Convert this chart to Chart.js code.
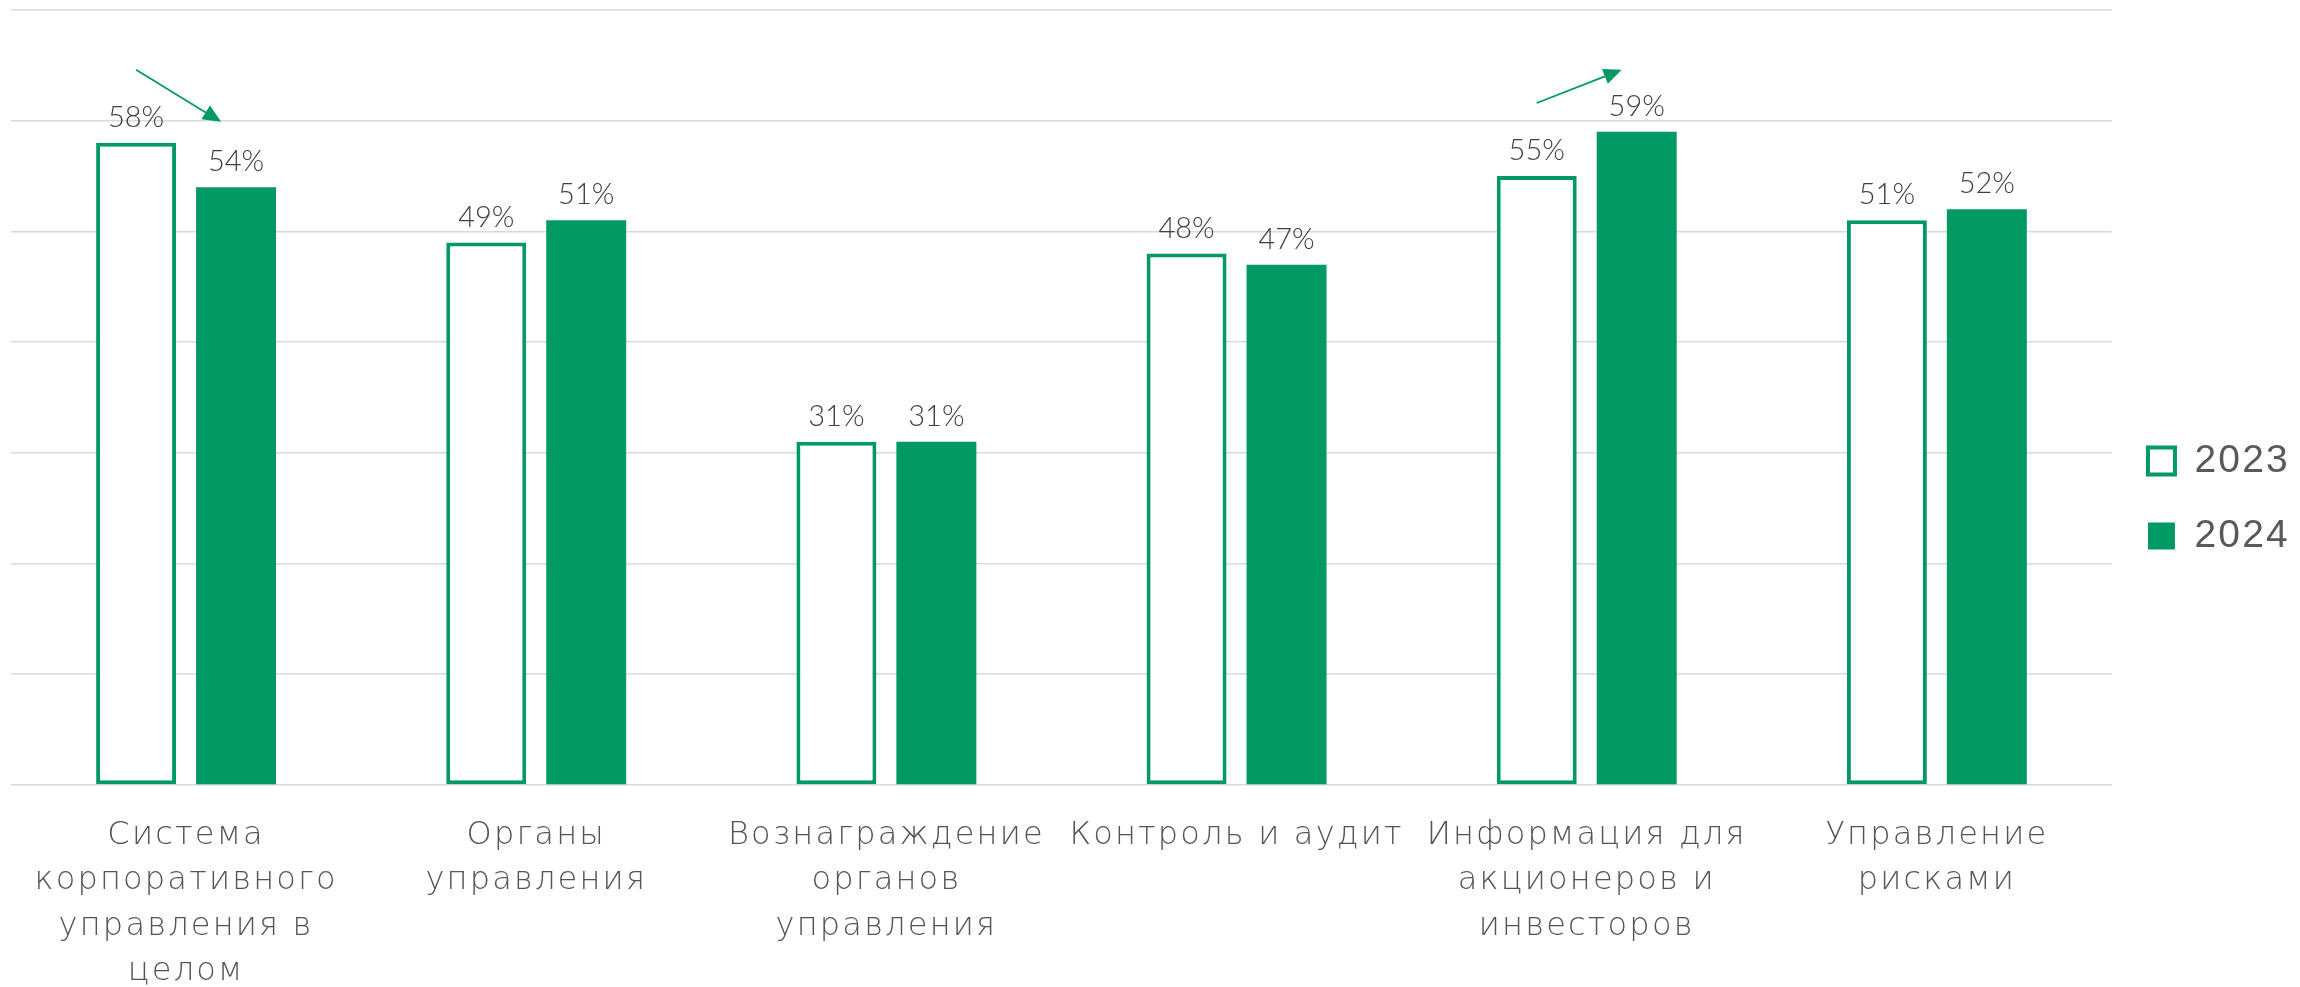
<!DOCTYPE html>
<html>
<head>
<meta charset="utf-8">
<script src="https://cdn.jsdelivr.net/npm/chart.js@4.4.1/dist/chart.umd.min.js"></script>
<style>
  html, body { margin: 0; padding: 0; background: #fff; }
  #wrap { width: 2300px; height: 987px; }
</style>
</head>
<body>
<div id="wrap"><canvas id="scoreChart"></canvas></div>
<script>
const categories = [
    ["Система", "корпоративного", "управления в", "целом"],
    ["Органы", "управления"],
    ["Вознаграждение", "органов", "управления"],
    ["Контроль и аудит"],
    ["Информация для", "акционеров и", "инвесторов"],
    ["Управление", "рисками"]
];
const seriesNames = ["2023", "2024"];
const values2023 = [58, 49, 31, 48, 55, 51];
const values2024 = [54, 51, 31, 47, 59, 52];
const yTicks = [0, 10, 20, 30, 40, 50, 60, 70];
// trend arrows: category index, start/end level in axis units
const trendArrows = [
    { index: 0, from: 64.6, to: 59.9 },
    { index: 4, from: 61.6, to: 64.6 }
];

const GREEN = "#009963";
const VALUE_FONT = "'Lato', 'Open Sans', sans-serif";
const AXIS_FONT = "'DejaVu Sans', sans-serif";

// wide letter spacing for axis/legend text (Century Gothic look)
const spacing = {
    id: "spacing",
    beforeLayout(chart) { chart.ctx.letterSpacing = "2.2px"; },
    beforeDraw(chart) { chart.ctx.letterSpacing = "2.2px"; }
};

const valueLabels = {
    id: "valueLabels",
    afterDatasetsDraw(chart) {
        const ctx = chart.ctx;
        ctx.save();
        ctx.letterSpacing = "0px";
        ctx.font = "300 29px " + VALUE_FONT;
        ctx.fillStyle = "#404040";
        ctx.textAlign = "center";
        ctx.textBaseline = "alphabetic";
        chart.data.datasets.forEach((ds, i) => {
            chart.getDatasetMeta(i).data.forEach((bar, j) => {
                ctx.fillText(ds.data[j] + "%", bar.x, bar.y - 16);
            });
        });
        ctx.restore();
    }
};

const arrows = {
    id: "trendArrows",
    afterDatasetsDraw(chart) {
        const ctx = chart.ctx;
        const y = chart.scales.y;
        const m0 = chart.getDatasetMeta(0);
        const m1 = chart.getDatasetMeta(1);
        ctx.save();
        ctx.strokeStyle = GREEN;
        ctx.fillStyle = GREEN;
        ctx.lineWidth = 1.8;
        trendArrows.forEach(a => {
            const x1 = m0.data[a.index].x;
            const x2 = m1.data[a.index].x - 15;
            const y1 = y.getPixelForValue(a.from);
            const y2 = y.getPixelForValue(a.to);
            const ang = Math.atan2(y2 - y1, x2 - x1);
            const len = 18, half = 8;
            const bx = x2 - len * Math.cos(ang), by = y2 - len * Math.sin(ang);
            ctx.beginPath();
            ctx.moveTo(x1, y1);
            ctx.lineTo(bx, by);
            ctx.stroke();
            ctx.beginPath();
            ctx.moveTo(x2, y2);
            ctx.lineTo(bx + half * Math.sin(ang), by - half * Math.cos(ang));
            ctx.lineTo(bx - half * Math.sin(ang), by + half * Math.cos(ang));
            ctx.closePath();
            ctx.fill();
        });
        ctx.restore();
    }
};

document.addEventListener("DOMContentLoaded", () => {
    const ctx = document.getElementById("scoreChart").getContext("2d");

    new Chart(ctx, {
        type: "bar",
        data: {
            labels: categories,
            datasets: [{
                label: seriesNames[0],
                data: values2023,
                backgroundColor: "#ffffff",
                borderColor: GREEN,
                borderWidth: 4,
                borderSkipped: false
            }, {
                label: seriesNames[1],
                data: values2024,
                backgroundColor: GREEN,
                borderColor: GREEN,
                borderWidth: 0
            }]
        },
        options: {
            responsive: true,
            maintainAspectRatio: false,
            animation: false,
            devicePixelRatio: 1,
            layout: { padding: { left: 11, top: 10, right: 0, bottom: 0 } },
            datasets: {
                bar: { categoryPercentage: 0.571, barPercentage: 0.8 }
            },
            scales: {
                y: {
                    min: yTicks[0],
                    max: yTicks[yTicks.length - 1],
                    ticks: { display: false, stepSize: yTicks[1] - yTicks[0] },
                    grid: { color: "#d9d9d9", lineWidth: 1.6, drawTicks: false },
                    border: { display: false }
                },
                x: {
                    grid: { display: false, drawTicks: false },
                    border: { display: false },
                    ticks: {
                        autoSkip: false,
                        maxRotation: 0,
                        minRotation: 0,
                        padding: 28,
                        color: "#545454",
                        font: { family: AXIS_FONT, size: 32, weight: 300, lineHeight: 1.42 }
                    },
                    afterFit: (scale) => { scale.height = 202; }
                }
            },
            plugins: {
                legend: {
                    position: "right",
                    labels: {
                        boxWidth: 27,
                        boxHeight: 27,
                        padding: 36,
                        color: "#595959",
                        font: { family: "'Liberation Sans', Arial, sans-serif", size: 39 }
                    }
                },
                title: { display: false },
                tooltip: { enabled: false }
            }
        },
        plugins: [spacing, valueLabels, arrows]
    });
});
</script>
</body>
</html>
